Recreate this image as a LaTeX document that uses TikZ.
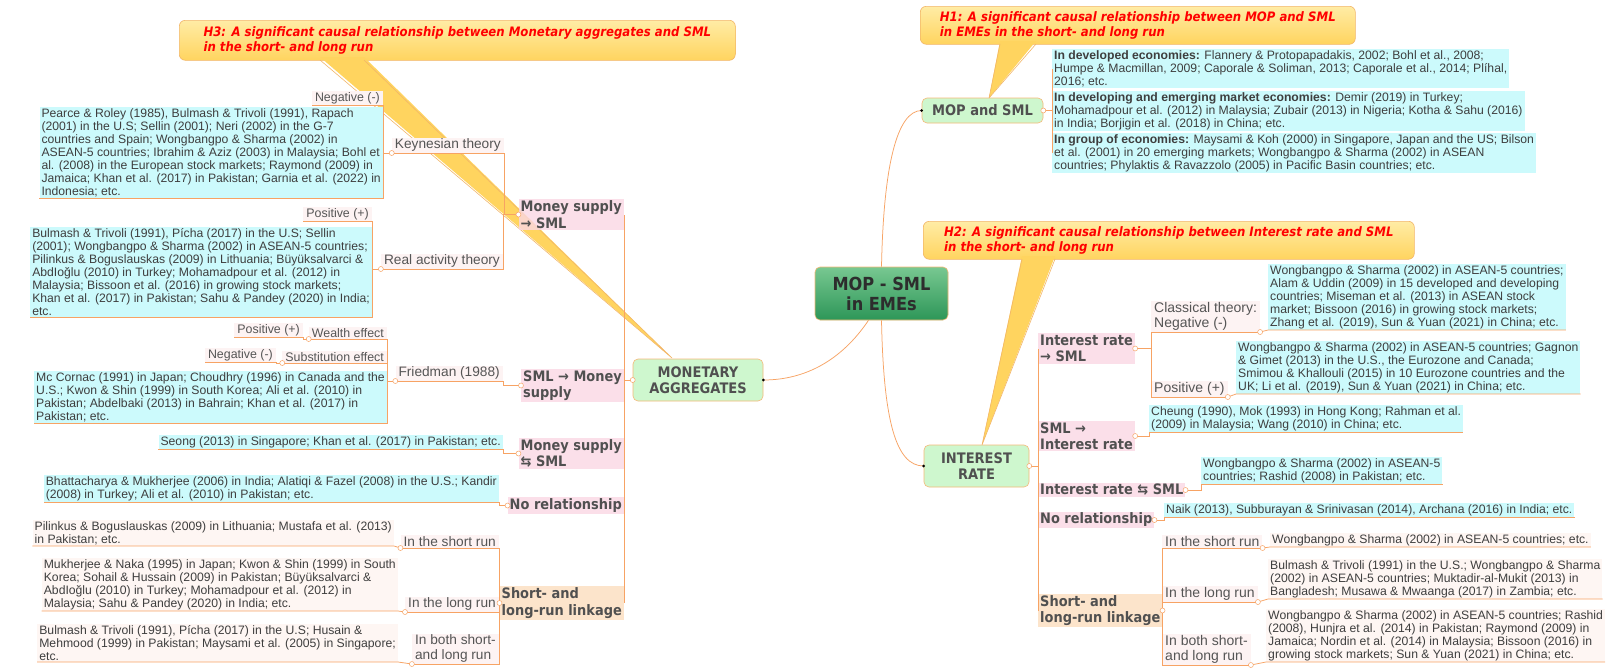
\documentclass[tikz,border=0pt]{standalone}
\usepackage{fontspec}
\setmainfont{Liberation Sans}
\newfontfamily\hfont[FakeStretch=0.9]{DejaVu Sans}
\usetikzlibrary{calc}
\definecolor{linec}{RGB}{247,163,100}
\definecolor{cyanc}{RGB}{204,250,252}
\definecolor{pinkc}{RGB}{250,215,228}
\definecolor{peachc}{RGB}{252,222,190}
\definecolor{labbg}{RGB}{253,243,243}
\definecolor{palebg}{RGB}{254,246,243}
\definecolor{greenc}{RGB}{206,247,206}
\definecolor{gborder}{RGB}{245,185,120}
\definecolor{moptop}{RGB}{120,200,145}
\definecolor{mopbot}{RGB}{45,150,88}
\definecolor{caltop}{RGB}{255,236,165}
\definecolor{calbot}{RGB}{255,212,95}
\definecolor{calborder}{RGB}{242,182,105}
\definecolor{redt}{RGB}{255,0,0}
\definecolor{citec}{RGB}{62,62,62}
\definecolor{labc}{RGB}{85,85,85}
\definecolor{headc}{RGB}{80,80,80}
\definecolor{mopt}{RGB}{45,45,45}
\tikzset{
 conn/.style={draw=linec, line width=0.75pt},
 citebox/.style={fill=cyanc, inner xsep=2pt, inner ysep=1.2pt, align=left, text=citec, font=\fontsize{12.2}{13}\selectfont},
 palebox/.style={citebox, fill=palebg},
 lab/.style={fill=labbg, inner xsep=3pt, inner ysep=1.2pt, align=left, text=labc, font=\fontsize{13.7}{15}\selectfont},
 labsm/.style={lab, font=\fontsize{12.4}{14}\selectfont},
 pinkh/.style={fill=pinkc, fill opacity=0.8, text opacity=1, inner xsep=2pt, inner ysep=1.5pt, align=left, text=headc, font=\hfont\bfseries\fontsize{14.4}{16.5}\selectfont},
 orh/.style={pinkh, fill=peachc},
 greenbox/.style={draw=gborder, fill=greenc, rounded corners=5pt, line width=0.6pt, align=center, text=headc, inner sep=2pt, font=\hfont\bfseries\fontsize{14.5}{16}\selectfont},
 mopbox/.style={greenbox, top color=moptop, bottom color=mopbot, text=mopt, font=\hfont\bfseries\fontsize{18}{20}\selectfont},
 callout/.style={draw=calborder, top color=caltop, bottom color=calbot, rounded corners=6pt, line width=0.6pt, align=left, text=redt, font=\hfont\bfseries\itshape\fontsize{13}{15}\selectfont},
 dotc/.style={circle, draw=linec, fill=white, inner sep=0pt, minimum size=5pt, line width=0.5pt},
 bdot/.style={circle, fill=black, inner sep=0pt, minimum size=3pt},
}
\begin{document}
\begin{tikzpicture}[x=1pt,y=-1pt]
\fill[white] (0,0) rectangle (1621,667);
\useasboundingbox (0,0) rectangle (1621,667);

% ---------- callouts ----------
\node[callout, anchor=north west, minimum width=556pt, minimum height=40pt] (h3) at (179,20) {H3: A significant causal relationship between Monetary aggregates and SML\\in the short- and long run};
\node[callout, anchor=north west, minimum width=435pt, minimum height=38pt] (h1) at (920,6) {H1: A significant causal relationship between MOP and SML\\in EMEs in the short- and long run};
\node[callout, anchor=north west, minimum width=491pt, minimum height=38pt] (h2) at (923,221) {H2: A significant causal relationship between Interest rate and SML\\in the short- and long run};
\coordinate (t3) at (672,358);
\coordinate (t1) at (989,98);
\coordinate (t2) at (982,445);
\fill[calbot] (320,57) -- (364,57) -- (t3) -- cycle;
\draw[calborder, line width=0.6pt] (320,60) -- (t3) -- (364,60);
\fill[calbot] (1000,41) -- (1036,41) -- (t1) -- cycle;
\draw[calborder, line width=0.6pt] (1000,44) -- (t1) -- (1036,44);
\fill[calbot] (1022,256) -- (1055,256) -- (t2) -- cycle;
\draw[calborder, line width=0.6pt] (1022,259) -- (t2) -- (1055,259);

% ---------- central nodes ----------
\node[mopbox, minimum width=133pt, minimum height=53pt] (mop) at (881.5,293.5) {MOP - SML\\in EMEs};
\node[greenbox, minimum width=130pt, minimum height=42pt] (ma) at (698,380) {MONETARY\\AGGREGATES};
\node[greenbox, minimum width=105pt, minimum height=42pt] (ir) at (976.5,466) {INTEREST\\RATE};
\node[greenbox, minimum width=121pt, minimum height=25pt] (ms) at (982.5,110.5) {MOP and SML};

% ---------- left: monetary aggregates ----------
\node[pinkh, anchor=east] (msS) at (624,214.5) {Money supply\\→ SML};
\node[pinkh, anchor=east] (smlMS) at (624,385.5) {SML → Money\\supply};
\node[pinkh, anchor=east] (msbi) at (624,453.5) {Money supply\\⇆ SML};
\node[pinkh, anchor=east] (noRelL) at (624,505.5) {No relationship};
\node[orh, anchor=east] (sllL) at (624,603) {Short- and\\long-run linkage};

\node[lab, anchor=south east] (keyT) at (504,153) {Keynesian theory};
\node[lab, anchor=south east] (realT) at (503,269) {Real activity theory};
\node[labsm, anchor=south east] (negK) at (383,105) {Negative (-)};
\node[citebox, anchor=south east] (citeK) at (383,198) {Pearce \& Roley (1985), Bulmash \& Trivoli (1991), Rapach\\(2001) in the U.S; Sellin (2001); Neri (2002) in the G-7\\countries and Spain; Wongbangpo \& Sharma (2002) in\\ASEAN-5 countries; Ibrahim \& Aziz (2003) in Malaysia; Bohl et\\al. (2008) in the European stock markets; Raymond (2009) in\\Jamaica; Khan et al. (2017) in Pakistan; Garnia et al. (2022) in\\Indonesia; etc.};
\node[labsm, anchor=south east] (posR) at (372,221) {Positive (+)};
\node[citebox, anchor=south east] (citeR) at (372,317) {Bulmash \& Trivoli (1991), Pícha (2017) in the U.S; Sellin\\(2001); Wongbangpo \& Sharma (2002) in ASEAN-5 countries;\\Pilinkus \& Boguslauskas (2009) in Lithuania; Büyüksalvarci \&\\AbdIoğlu (2010) in Turkey; Mohamadpour et al. (2012) in\\Malaysia; Bissoon et al. (2016) in growing stock markets;\\Khan et al. (2017) in Pakistan; Sahu \& Pandey (2020) in India;\\etc.};

\node[lab, anchor=south east] (friedman) at (503,381) {Friedman (1988)};
\node[labsm, anchor=south east] (wealth) at (387,339) {Wealth effect};
\node[labsm, anchor=south east] (subst) at (387,363) {Substitution effect};
\node[labsm, anchor=south east] (posW) at (303,337) {Positive (+)};
\node[labsm, anchor=south east] (negS) at (276,362) {Negative (-)};
\node[citebox, anchor=south east] (citeF) at (387,423) {Mc Cornac (1991) in Japan; Choudhry (1996) in Canada and the\\U.S.; Kwon \& Shin (1999) in South Korea; Ali et al. (2010) in\\Pakistan; Abdelbaki (2013) in Bahrain; Khan et al. (2017) in\\Pakistan; etc.};

\node[citebox, anchor=south east] (seong) at (503,449) {Seong (2013) in Singapore; Khan et al. (2017) in Pakistan; etc.};
\node[citebox, anchor=south east] (bhatt) at (499,502) {Bhattacharya \& Mukherjee (2006) in India; Alatiqi \& Fazel (2008) in the U.S.; Kandir\\(2008) in Turkey; Ali et al. (2010) in Pakistan; etc.};

\node[lab, anchor=south east] (shortL) at (499,548) {In the short run};
\node[lab, anchor=south east] (longL) at (499,612) {In the long run};
\node[lab, anchor=south east] (bothL) at (499,664) {In both short-\\and long run};
\node[palebox, anchor=south east] (pilinkus) at (394,546) {Pilinkus \& Boguslauskas (2009) in Lithuania; Mustafa et al. (2013)\\in Pakistan; etc.};
\node[palebox, anchor=south east] (mukh) at (398,611) {Mukherjee \& Naka (1995) in Japan; Kwon \& Shin (1999) in South\\Korea; Sohail \& Hussain (2009) in Pakistan; Büyüksalvarci \&\\AbdIoğlu (2010) in Turkey; Mohamadpour et al. (2012) in\\Malaysia; Sahu \& Pandey (2020) in India; etc.};
\node[palebox, anchor=south east] (bulm) at (398,662) {Bulmash \& Trivoli (1991), Pícha (2017) in the U.S; Husain \&\\Mehmood (1999) in Pakistan; Maysami et al. (2005) in Singapore;\\etc.};

% ---------- right: MOP and SML ----------
\node[citebox, anchor=west] (dev) at (1052,68.5) {\textbf{In developed economies:} Flannery \& Protopapadakis, 2002; Bohl et al., 2008;\\Humpe \& Macmillan, 2009; Caporale \& Soliman, 2013; Caporale et al., 2014; Plíhal,\\2016; etc.};
\node[citebox, anchor=west] (devg) at (1052,111) {\textbf{In developing and emerging market economies:} Demir (2019) in Turkey;\\Mohamadpour et al. (2012) in Malaysia; Zubair (2013) in Nigeria; Kotha \& Sahu (2016)\\in India; Borjigin et al. (2018) in China; etc.};
\node[citebox, anchor=west] (grp) at (1052,153) {\textbf{In group of economies:} Maysami \& Koh (2000) in Singapore, Japan and the US; Bilson\\et al. (2001) in 20 emerging markets; Wongbangpo \& Sharma (2002) in ASEAN\\countries; Phylaktis \& Ravazzolo (2005) in Pacific Basin countries; etc.};

% ---------- right: interest rate ----------
\node[pinkh, anchor=west] (irS) at (1038,348.5) {Interest rate\\→ SML};
\node[pinkh, anchor=west] (smlIR) at (1038,436) {SML →\\Interest rate};
\node[pinkh, anchor=west] (irbi) at (1038,490) {Interest rate ⇆ SML};
\node[pinkh, anchor=west] (noRelR) at (1038,520) {No relationship};
\node[orh, anchor=west] (sllR) at (1038,610.5) {Short- and\\long-run linkage};

\node[lab, anchor=south west, font=\fontsize{14}{15}\selectfont] (classical) at (1151,332) {Classical theory:\\Negative (-)};
\node[lab, anchor=south west, font=\fontsize{14}{15}\selectfont] (posIR) at (1151,397) {Positive (+)};
\node[citebox, anchor=south west] (citeC) at (1268,330) {Wongbangpo \& Sharma (2002) in ASEAN-5 countries;\\Alam \& Uddin (2009) in 15 developed and developing\\countries; Miseman et al. (2013) in ASEAN stock\\market; Bissoon (2016) in growing stock markets;\\Zhang et al. (2019), Sun \& Yuan (2021) in China; etc.};
\node[citebox, anchor=south west] (citeP) at (1236,394) {Wongbangpo \& Sharma (2002) in ASEAN-5 countries; Gagnon\\\& Gimet (2013) in the U.S., the Eurozone and Canada;\\Smimou \& Khallouli (2015) in 10 Eurozone countries and the\\UK; Li et al. (2019), Sun \& Yuan (2021) in China; etc.};
\node[citebox, anchor=south west] (cheung) at (1149,432) {Cheung (1990), Mok (1993) in Hong Kong; Rahman et al.\\(2009) in Malaysia; Wang (2010) in China; etc.};
\node[citebox, anchor=south west] (wong2) at (1201,484) {Wongbangpo \& Sharma (2002) in ASEAN-5\\countries; Rashid (2008) in Pakistan; etc.};
\node[citebox, anchor=south west] (naik) at (1164,517) {Naik (2013), Subburayan \& Srinivasan (2014), Archana (2016) in India; etc.};

\node[lab, anchor=south west, font=\fontsize{14}{15}\selectfont] (shortR) at (1162,548) {In the short run};
\node[lab, anchor=south west, font=\fontsize{14}{15}\selectfont] (longR) at (1162,602) {In the long run};
\node[lab, anchor=south west, font=\fontsize{14}{15}\selectfont] (bothR) at (1162,665) {In both short-\\and long run};
\node[palebox, anchor=south west] (wong3) at (1270,547) {Wongbangpo \& Sharma (2002) in ASEAN-5 countries; etc.};
\node[palebox, anchor=south west] (bulR) at (1268,599) {Bulmash \& Trivoli (1991) in the U.S.; Wongbangpo \& Sharma\\(2002) in ASEAN-5 countries; Muktadir-al-Mukit (2013) in\\Bangladesh; Musawa \& Mwaanga (2017) in Zambia; etc.};
\node[palebox, anchor=south west] (wong4) at (1266,662) {Wongbangpo \& Sharma (2002) in ASEAN-5 countries; Rashid\\(2008), Hunjra et al. (2014) in Pakistan; Raymond (2009) in\\Jamaica; Nordin et al. (2014) in Malaysia; Bissoon (2016) in\\growing stock markets; Sun \& Yuan (2021) in China; etc.};

% ---------- main curves ----------
\draw[conn] ($(mop.south)+(-13,0)$) .. controls ($(mop.south)+(-40,40)$) and ($(ma.east)+(42,0)$) .. (ma.east);
\draw[conn] (mop.north) .. controls ($(mop.north)+(2,-100)$) and ($(ms.west)+(-25,0)$) .. (ms.west);
\draw[conn] (mop.south) .. controls ($(mop.south)+(2,100)$) and ($(ir.west)+(-28,0)$) .. (ir.west);

% ---------- left connectors ----------
\foreach \n in {msS,smlMS,msbi,noRelL,sllL} \draw[conn] (ma.west) -| (\n.east);
\draw[conn] (msS.west) -| (keyT.south east) -- (keyT.south west);
\draw[conn] (msS.west) -| (realT.south east) -- (realT.south west);
\draw[conn] (keyT.south west) -| (negK.south east) -- (negK.south west);
\draw[conn] (keyT.south west) -| (citeK.south east) -- (citeK.south west);
\draw[conn] (realT.south west) -| (posR.south east) -- (posR.south west);
\draw[conn] (realT.south west) -| (citeR.south east) -- (citeR.south west);
\draw[conn] (smlMS.west) -| (friedman.south east) -- (friedman.south west);
\draw[conn] (friedman.south west) -| (wealth.south east) -- (wealth.south west);
\draw[conn] (friedman.south west) -| (subst.south east) -- (subst.south west);
\draw[conn] (friedman.south west) -| (citeF.south east) -- (citeF.south west);
\draw[conn] (wealth.south west) -| (posW.south east) -- (posW.south west);
\draw[conn] (subst.south west) -| (negS.south east) -- (negS.south west);
\draw[conn] (msbi.west) -| (seong.south east) -- (seong.south west);
\draw[conn] (noRelL.west) -| (bhatt.south east) -- (bhatt.south west);
\draw[conn] (sllL.west) -| (shortL.south east) -- (shortL.south west);
\draw[conn] (sllL.west) -| (longL.south east) -- (longL.south west);
\draw[conn] (sllL.west) -| (bothL.south east) -- (bothL.south west);
\draw[conn] (shortL.south west) -- (pilinkus.south east) -- (pilinkus.south west);
\draw[conn] (longL.south west) -- (mukh.south east) -- (mukh.south west);
\draw[conn] (bothL.south west) -- (bulm.south east) -- (bulm.south west);

% ---------- right connectors ----------
\foreach \n in {dev,devg,grp} \draw[conn] (ms.east) -| (\n.west);
\foreach \n in {irS,smlIR,irbi,noRelR,sllR} \draw[conn] (ir.east) -| (\n.west);
\draw[conn] (irS.east) -| (classical.south west) -- (classical.south east);
\draw[conn] (irS.east) -| (posIR.south west) -- (posIR.south east);
\draw[conn] (classical.south east) -- (citeC.south west) -- (citeC.south east);
\draw[conn] (posIR.south east) -- (citeP.south west) -- (citeP.south east);
\draw[conn] (smlIR.east) -| (cheung.south west) -- (cheung.south east);
\draw[conn] (irbi.east) -| (wong2.south west) -- (wong2.south east);
\draw[conn] (noRelR.east) -| (naik.south west) -- (naik.south east);
\draw[conn] (sllR.east) -| (shortR.south west) -- (shortR.south east);
\draw[conn] (sllR.east) -| (longR.south west) -- (longR.south east);
\draw[conn] (sllR.east) -| (bothR.south west) -- (bothR.south east);
\draw[conn] (shortR.south east) -- (wong3.south west) -- (wong3.south east);
\draw[conn] (longR.south east) -- (bulR.south west) -- (bulR.south east);
\draw[conn] (bothR.south east) -- (wong4.south west) -- (wong4.south east);

% ---------- circles and dots ----------
\foreach \p [count=\i] in {ma.west, msS.west, keyT.south west, realT.south west, smlMS.west, friedman.south west, wealth.south west, subst.south west, msbi.west, noRelL.west, sllL.west, shortL.south west, longL.south west, bothL.south west, ms.east, ir.east, irS.east, classical.south east, posIR.south east, smlIR.east, irbi.east, noRelR.east, sllR.east, shortR.south east, longR.south east, bothR.south east}
  \node[dotc] (circ\i) at (\p) {};
\node[bdot] (dotma) at (ma.east) {};
\node[bdot] (dotms) at (ms.west) {};
\node[bdot] (dotir) at (ir.west) {};
\end{tikzpicture}
\end{document}
